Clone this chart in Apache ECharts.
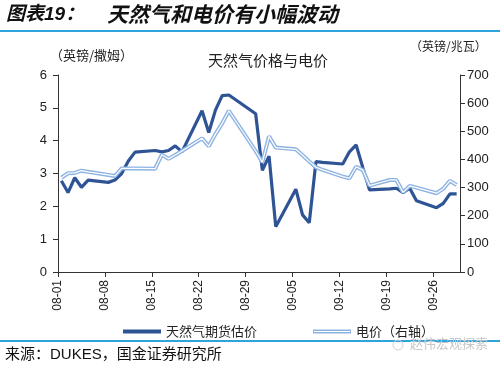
<!DOCTYPE html>
<html><head><meta charset="utf-8">
<script src="https://cdn.jsdelivr.net/npm/echarts@6/dist/echarts.min.js"></script>
<style>html,body{margin:0;padding:0;background:#fff}#c{width:500px;height:369px}</style>
</head><body><div id="c"></div>
<script>
// Trading dates (2022)
const dates = ['08-01','08-02','08-03','08-04','08-05','08-08','08-09','08-10','08-11','08-12',
  '08-15','08-16','08-17','08-18','08-19','08-22','08-23','08-24','08-25','08-26','08-30','08-31',
  '09-01','09-02','09-05','09-06','09-07','09-08','09-09','09-12','09-13','09-14','09-15','09-16',
  '09-19','09-20','09-21','09-22','09-23','09-26','09-27','09-28','09-29'];
// 天然气期货估价 (英镑/撒姆)
const gasValues = [2.78,2.42,2.87,2.58,2.80,2.73,2.80,3.00,3.38,3.65,
  3.70,3.66,3.70,3.84,3.66,4.91,4.25,4.93,5.37,5.39,4.82,3.10,
  3.53,1.38,2.52,1.74,1.50,3.36,3.34,3.29,3.66,3.87,3.18,2.50,
  2.53,2.55,2.42,2.55,2.17,1.96,2.09,2.38,2.38];
// 电价 (英镑/兆瓦)
const elecValues = [335,351,352,360,356,345,341,368,368,368,
  367,417,402,416,430,475,447,490,528,573,430,390,
  482,442,436,415,393,372,363,339,333,374,362,307,
  327,327,283,306,300,280,296,324,309];
const xTickLabels = ['08-01','08-08','08-15','08-22','08-29','09-05','09-12','09-19','09-26'];
const gasName = '天然气期货估价';
const elecName = '电价（右轴）';

function dayPos(d){ const [m,dd]=d.split('-').map(Number); return (m===8?dd-1:31+dd-1)+0.5; }
const gasData = dates.map((d,i)=>[dayPos(d), gasValues[i]]);
const elecData = dates.map((d,i)=>[dayPos(d), elecValues[i]]);

const FONT = "'Liberation Sans','Noto Sans CJK SC',sans-serif";
const CJK = "'Noto Sans CJK SC','Liberation Sans',sans-serif";
const chart = echarts.init(document.getElementById('c'), null, {renderer:'canvas'});
chart.setOption({
  animation:false,
  backgroundColor:'#fff',
  title:{text:'天然气价格与电价', left:263, textAlign:'center', top:48,
    textStyle:{fontFamily:CJK, fontSize:15, fontWeight:'normal', color:'#222'}},
  grid:{left:58, right:40, top:75, bottom:97},
  legend:{left:118, top:320, itemWidth:38, itemHeight:4, itemGap:56,
    data:[{name:gasName, icon:'rect'},
          {name:elecName, icon:'path://M0,0L38,0L38,4L0,4Z M1,1.4L1,2.6L37,2.6L37,1.4Z'}],
    textStyle:{fontFamily:CJK, fontSize:13, color:'#222'}},
  xAxis:{type:'value', min:0, max:60, interval:7,
    axisLine:{lineStyle:{color:'#333', width:1}},
    axisTick:{show:true, length:5, lineStyle:{color:'#333'}},
    splitLine:{show:false},
    axisLabel:{rotate:90, margin:8, fontFamily:FONT, fontSize:12, color:'#222', showMaxLabel:false,
      formatter:v=> (v%7===0 && xTickLabels[v/7]) ? xTickLabels[v/7] : ''}},
  yAxis:[
    {type:'value', min:0, max:6, interval:1, position:'left',
      axisLine:{show:true, lineStyle:{color:'#333'}},
      axisTick:{show:true, length:5, lineStyle:{color:'#333'}},
      splitLine:{show:false},
      axisLabel:{margin:11, fontFamily:FONT, fontSize:13, color:'#222'}},
    {type:'value', min:0, max:700, interval:100, position:'right',
      axisLine:{show:true, lineStyle:{color:'#333'}},
      axisTick:{show:true, length:5, lineStyle:{color:'#333'}},
      splitLine:{show:false},
      axisLabel:{margin:7, fontFamily:FONT, fontSize:13, color:'#222'}}
  ],
  series:[
    {name:gasName, type:'line', yAxisIndex:0, data:gasData, symbol:'none',
      lineStyle:{color:'#2F5496', width:3.2}, itemStyle:{color:'#2F5496'}, z:2},
    {name:elecName, type:'line', yAxisIndex:1, data:elecData, symbol:'none',
      lineStyle:{color:'#8DB3E2', width:4}, itemStyle:{color:'#8DB3E2'}, z:3},
    {name:'elecInner', type:'line', yAxisIndex:1, data:elecData, symbol:'none',
      lineStyle:{color:'#ffffff', width:1.2}, z:4, silent:true}
  ],
  graphic:[
    {type:'text', left:6, top:5, style:{text:'图表19：', font:"italic bold 19px 'Liberation Sans','Noto Sans CJK SC'", fill:'#111'}},
    {type:'text', left:107, top:4, style:{text:'天然气和电价有小幅波动', font:"italic bold 21px 'Noto Sans CJK SC'", fill:'#111'}},
    {type:'line', shape:{x1:0,y1:31,x2:500,y2:31}, style:{stroke:'#2EA3DC', lineWidth:2}},
    {type:'text', left:50, top:49, style:{text:'（英镑/撒姆）', font:"13px 'Noto Sans CJK SC'", fill:'#222'}},
    {type:'text', left:410, top:40, style:{text:'（英镑/兆瓦）', font:"12px 'Noto Sans CJK SC'", fill:'#222'}},
    {type:'line', shape:{x1:0,y1:341,x2:500,y2:341}, style:{stroke:'#2EA3DC', lineWidth:2}},
    {type:'text', left:5, top:347, style:{text:'来源：DUKES，国金证券研究所', font:"15px 'Liberation Sans','Noto Sans CJK SC'", fill:'#111'}},
    {type:'text', left:410, top:337, style:{text:'赵伟宏观探索', font:"13px 'Noto Sans CJK SC'", fill:'#c8c8c8'}},
    {type:'circle', shape:{cx:398, cy:345, r:5}, style:{fill:'none', stroke:'#d0d0d0', lineWidth:1}}
  ]
});
</script></body></html>
